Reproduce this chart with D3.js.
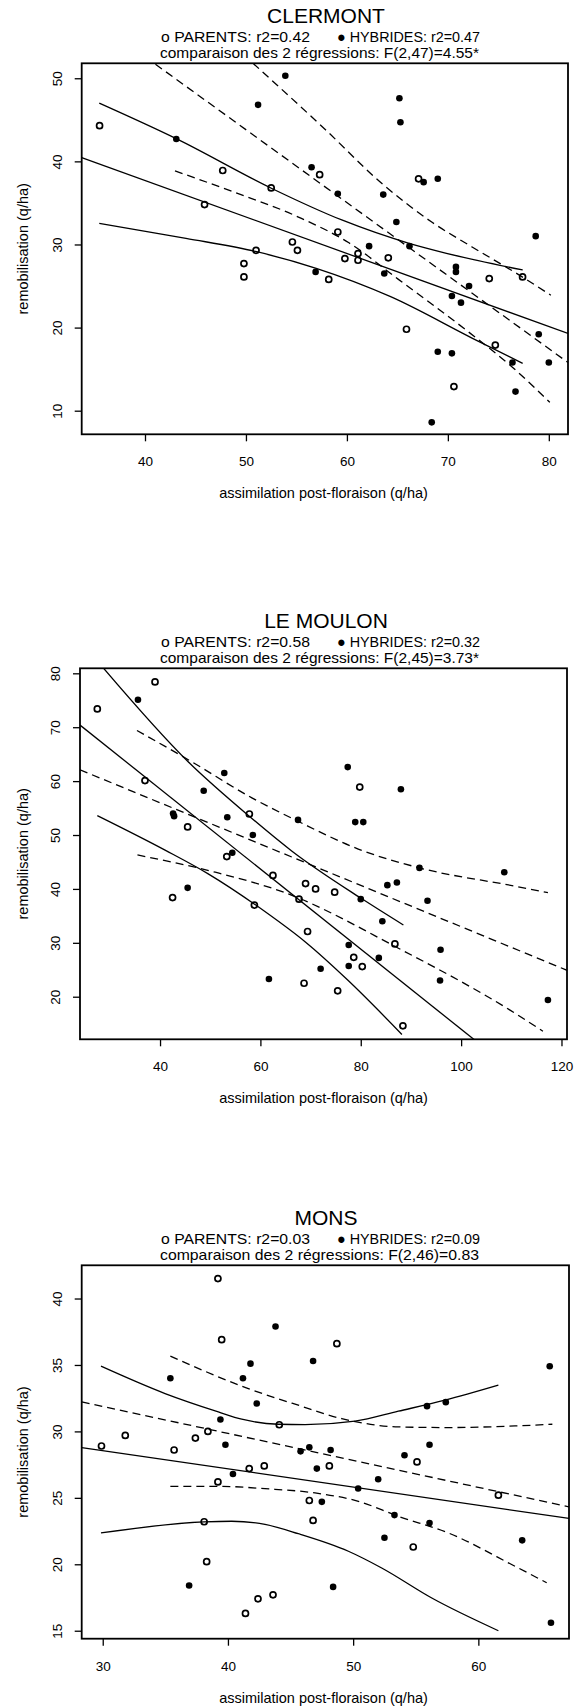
<!DOCTYPE html>
<html lang="fr">

<head>
    <meta charset="UTF-8">
    <script src="https://d3js.org/d3.v7.min.js"></script>
    <style>
        body {
            margin: 0;
            background: #fff;
        }

        svg text {
            font-family: "Liberation Sans", Arial, Helvetica, sans-serif;
            fill: #000;
        }
    </style>
    <title>remobilisation vs assimilation</title>
</head>

<body>
    <svg width="583" height="1706"></svg>
    <script>
        // ---------- data ----------
        const siteNames = ['CLERMONT', 'LE MOULON', 'MONS'];
        const r2Parents = ['0.42', '0.58', '0.03'];
        const r2Hybrides = ['0.47', '0.32', '0.09'];
        const fTests = ['F(2,47)=4.55*', 'F(2,45)=3.73*', 'F(2,46)=0.83'];

        const xTitle = 'assimilation post-floraison (q/ha)';
        const yTitle = 'remobilisation (q/ha)';

        // CLERMONT
        const clermontXDomain = [33.73, 81.9];
        const clermontYDomain = [7.16, 51.8];
        const clermontXTicks = [40, 50, 60, 70, 80];
        const clermontYTicks = [10, 20, 30, 40, 50];
        const clermontParents = [
            [35.5, 44.3], [47.7, 38.9], [45.9, 34.8], [52.5, 36.8], [57.3, 38.4], [67.1, 37.9],
            [59.1, 31.5], [54.6, 30.3], [55.1, 29.3], [51.0, 29.3], [49.8, 27.7], [49.8, 26.1],
            [58.2, 25.8], [59.8, 28.3], [61.1, 28.9], [61.1, 28.1], [64.1, 28.4], [65.9, 19.8],
            [70.6, 12.9], [74.1, 25.9], [74.7, 17.9], [77.4, 26.1]
        ];
        const clermontHybrides = [
            [53.9, 50.3], [51.2, 46.8], [65.2, 47.6], [65.3, 44.7], [43.1, 42.7], [56.5, 39.3],
            [67.6, 37.5], [69.0, 37.9], [59.1, 36.1], [63.6, 36.0], [64.9, 32.7], [62.2, 29.8],
            [66.2, 29.8], [56.9, 26.7], [63.7, 26.5], [70.8, 27.3], [70.8, 26.7], [72.1, 25.0],
            [70.4, 23.8], [71.3, 23.0], [69.0, 17.1], [70.4, 16.9], [76.4, 15.8], [68.4, 8.6],
            [76.7, 12.3], [79.0, 19.2], [80.0, 15.8], [78.7, 31.0]
        ];
        const clermontParentFit = [[33.73, 40.45], [81.9, 19.3]];
        const clermontParentUpper = [[35.47, 47.0], [43.14, 42.7], [52.46, 36.8], [59.49, 32.95], [66.16, 30.14], [69.86, 28.94], [77.41, 26.93]];
        const clermontParentLower = [[35.47, 32.55], [44.06, 30.74], [51.06, 29.13], [56.96, 27.13], [64.33, 23.72], [72.44, 18.71], [77.41, 15.7]];
        const clermontHybridFit = [[33.73, 58.1], [81.9, 15.8]];
        const clermontHybridUpper = [[50.7, 51.8], [57.8, 43.9], [63.5, 37.3], [68.4, 32.7], [72.4, 29.7], [76.7, 26.6], [80.2, 23.9]];
        const clermontHybridLower = [[42.97, 38.85], [48.6, 36.4], [55.2, 33.3], [60.2, 30.2], [65.1, 25.8], [71.7, 19.8], [76.7, 14.9], [80.1, 11.0]];

        // LE MOULON
        const moulonXDomain = [24.05, 121.1];
        const moulonYDomain = [12.1, 80.93];
        const moulonXTicks = [40, 60, 80, 100, 120];
        const moulonYTicks = [20, 30, 40, 50, 60, 70, 80];
        const moulonParents = [
            [27.5, 73.4], [39.0, 78.4], [37.0, 60.1], [45.5, 51.5], [57.8, 53.9], [79.8, 58.9],
            [53.3, 46.0], [62.5, 42.5], [42.5, 38.4], [58.8, 37.0], [69.0, 41.0], [71.0, 40.0],
            [74.8, 39.4], [67.7, 38.1], [69.4, 32.1], [78.6, 27.3], [80.3, 25.6], [86.8, 29.8],
            [68.7, 22.5], [75.4, 21.1], [88.4, 14.6]
        ];
        const moulonHybrides = [
            [35.6, 75.1], [52.8, 61.5], [48.7, 58.2], [42.6, 54.0], [42.8, 53.5], [53.4, 53.3],
            [58.5, 50.0], [67.5, 52.8], [77.4, 62.6], [78.9, 52.4], [80.5, 52.4], [88.0, 58.5],
            [54.4, 46.7], [45.5, 40.2], [61.7, 23.3], [72.0, 25.2], [77.6, 29.6], [77.6, 25.7],
            [83.6, 27.2], [80.0, 38.1], [84.3, 34.0], [85.3, 40.7], [87.2, 41.2], [91.7, 43.9],
            [93.3, 37.8], [95.9, 28.7], [95.8, 23.0], [108.6, 43.1], [117.3, 19.4]
        ];
        const moulonParentFit = [[24.05, 70.4], [121.1, -1.7]];
        const moulonParentUpper = [[27.5, 82.3], [45.6, 63.6], [57.9, 53.4], [66.3, 47.0], [80.0, 38.3], [88.5, 33.3]];
        const moulonParentLower = [[27.5, 53.6], [41.0, 47.2], [49.6, 42.8], [60.9, 35.8], [68.9, 30.2], [77.5, 23.0], [88.2, 13.0]];
        const moulonHybridFit = [[24.05, 62.1], [121.1, 24.9]];
        const moulonHybridUpper = [[35.4, 69.4], [46.3, 63.6], [58.3, 56.9], [67.6, 52.5], [79.5, 47.4], [91.7, 43.9], [110.8, 40.5], [117.3, 39.3]];
        const moulonHybridLower = [[35.5, 46.3], [51.0, 43.1], [64.9, 39.3], [87.5, 29.0], [110.8, 16.9], [116.3, 13.6]];

        // MONS
        const monsXDomain = [28.32, 67.24];
        const monsYDomain = [14.4, 42.5];
        const monsXTicks = [30, 40, 50, 60];
        const monsYTicks = [15, 20, 25, 30, 35, 40];
        const monsParents = [
            [39.2, 41.5], [39.5, 36.9], [48.7, 36.6], [29.9, 28.9], [31.8, 29.7], [37.4, 29.5],
            [38.4, 30.0], [44.1, 30.5], [35.7, 28.6], [41.7, 27.2], [42.9, 27.4], [39.2, 26.2],
            [48.1, 27.4], [55.1, 27.7], [46.5, 24.8], [46.8, 23.3], [38.1, 23.2], [38.3, 20.2],
            [54.8, 21.3], [42.4, 17.4], [43.6, 17.7], [41.4, 16.3], [61.6, 25.2]
        ];
        const monsHybrides = [
            [43.8, 37.9], [46.8, 35.3], [41.8, 35.1], [35.4, 34.0], [41.2, 34.0], [42.3, 32.1],
            [39.4, 30.9], [55.9, 31.9], [57.4, 32.2], [56.1, 29.0], [39.8, 29.0], [46.5, 28.8],
            [45.8, 28.5], [48.2, 28.6], [65.7, 34.9], [54.1, 28.2], [40.4, 26.8], [47.1, 27.2],
            [52.0, 26.4], [50.4, 25.7], [47.5, 24.7], [53.3, 23.7], [56.1, 23.1], [52.5, 22.0],
            [36.9, 18.4], [48.4, 18.3], [63.5, 21.8], [65.8, 15.6]
        ];
        const monsParentFit = [[28.32, 28.78], [67.24, 23.45]];
        const monsParentUpper = [[29.86, 34.91], [34.98, 32.85], [39.23, 31.47], [41.1, 30.92], [44.03, 30.54], [46.16, 30.51], [50.15, 30.77], [53.61, 31.52], [57.34, 32.35], [61.6, 33.48]];
        const monsParentLower = [[29.86, 22.36], [38.09, 23.19], [40.3, 23.24], [42.96, 23.0], [45.62, 22.3], [49.62, 20.98], [52.28, 19.72], [56.28, 17.46], [61.6, 15.0]];
        const monsHybridFit = [[28.32, 32.22], [67.24, 24.32]];
        const monsHybridUpper = [[35.4, 35.66], [41.63, 33.22], [45.62, 31.97], [49.09, 30.96], [53.61, 30.34], [57.6, 30.29], [62.93, 30.41], [65.91, 30.54]];
        const monsHybridLower = [[35.4, 25.87], [39.21, 25.87], [42.96, 25.69], [46.96, 25.37], [50.42, 24.74], [53.61, 23.61], [57.6, 22.36], [62.93, 19.85], [65.46, 18.61]];

        // ---------- layout ----------
        const panels = [
            {
                xDomain: clermontXDomain, yDomain: clermontYDomain, xTicks: clermontXTicks, yTicks: clermontYTicks,
                parents: clermontParents, hybrides: clermontHybrides,
                solid: [clermontParentFit, clermontParentUpper, clermontParentLower],
                dashed: [clermontHybridFit, clermontHybridUpper, clermontHybridLower],
                box: { left: 81.7, right: 568, top: 63.3, bottom: 434.3 }
            },
            {
                xDomain: moulonXDomain, yDomain: moulonYDomain, xTicks: moulonXTicks, yTicks: moulonYTicks,
                parents: moulonParents, hybrides: moulonHybrides,
                solid: [moulonParentFit, moulonParentUpper, moulonParentLower],
                dashed: [moulonHybridFit, moulonHybridUpper, moulonHybridLower],
                box: { left: 80, right: 567, top: 668.3, bottom: 1039.3 }
            },
            {
                xDomain: monsXDomain, yDomain: monsYDomain, xTicks: monsXTicks, yTicks: monsYTicks,
                parents: monsParents, hybrides: monsHybrides,
                solid: [monsParentFit, monsParentUpper, monsParentLower],
                dashed: [monsHybridFit, monsHybridUpper, monsHybridLower],
                box: { left: 81.7, right: 569, top: 1265.3, bottom: 1638.7 }
            }
        ];

        const svg = d3.select('svg');

        panels.forEach((p, i) => drawPanel(p, i));

        function drawPanel(p, i) {
            const b = p.box;
            const g = svg.append('g');

            const x = d3.scaleLinear().domain(p.xDomain).range([b.left, b.right]);
            const y = d3.scaleLinear().domain(p.yDomain).range([b.bottom, b.top]);

            // clip the regression lines to the plotting box
            const clipId = 'clip' + i;
            g.append('clipPath').attr('id', clipId)
                .append('rect')
                .attr('x', b.left).attr('y', b.top)
                .attr('width', b.right - b.left).attr('height', b.bottom - b.top);

            // titles
            g.append('text')
                .attr('x', 326).attr('y', b.top - 40.6)
                .attr('text-anchor', 'middle')
                .attr('font-size', 21)
                .text(siteNames[i]);

            g.append('text')
                .attr('x', 161).attr('y', b.top - 21.7)
                .attr('font-size', 15)
                .attr('textLength', 149).attr('lengthAdjust', 'spacingAndGlyphs')
                .text('o PARENTS: r2=' + r2Parents[i]);

            g.append('text')
                .attr('x', 337).attr('y', b.top - 21.7)
                .attr('font-size', 15)
                .attr('textLength', 143).attr('lengthAdjust', 'spacingAndGlyphs')
                .text('\u25CF HYBRIDES: r2=' + r2Hybrides[i]);

            g.append('text')
                .attr('x', 160).attr('y', b.top - 5)
                .attr('font-size', 15)
                .attr('textLength', 319).attr('lengthAdjust', 'spacingAndGlyphs')
                .text('comparaison des 2 r\u00e9gressions: ' + fTests[i]);

            // axes
            const xAxis = g.append('g')
                .attr('transform', `translate(0,${b.bottom})`)
                .call(d3.axisBottom(x).tickValues(p.xTicks).tickSize(7).tickFormat(d3.format('d')));
            xAxis.select('.domain').remove();
            xAxis.attr('font-size', 13.5).attr('font-family', null);
            xAxis.selectAll('.tick line').attr('stroke-width', 1.3);
            xAxis.selectAll('.tick text').attr('y', 32).attr('dy', null);

            const yAxis = g.append('g')
                .attr('transform', `translate(${b.left},0)`)
                .call(d3.axisLeft(y).tickValues(p.yTicks).tickSize(7).tickFormat(d3.format('d')));
            yAxis.select('.domain').remove();
            yAxis.attr('font-size', 13.5).attr('font-family', null);
            yAxis.selectAll('.tick line').attr('stroke-width', 1.3);
            // R style: labels parallel to the axis
            yAxis.selectAll('.tick text')
                .attr('transform', 'rotate(-90)')
                .attr('x', 0).attr('y', -20).attr('dy', null)
                .attr('text-anchor', 'middle');

            // axis titles
            g.append('text')
                .attr('x', 323.5).attr('y', b.bottom + 64)
                .attr('text-anchor', 'middle')
                .attr('font-size', 14.5)
                .text(xTitle);

            g.append('text')
                .attr('transform', `translate(27.5,${(b.top + b.bottom) / 2}) rotate(-90)`)
                .attr('text-anchor', 'middle')
                .attr('font-size', 14.5)
                .text(yTitle);

            // regressions and confidence bands
            const line = d3.line()
                .x(d => x(d[0]))
                .y(d => y(d[1]))
                .curve(d3.curveMonotoneX);

            const lines = g.append('g').attr('clip-path', `url(#${clipId})`)
                .attr('fill', 'none').attr('stroke', '#000');

            lines.selectAll('path.solid')
                .data(p.solid)
                .enter().append('path')
                .attr('class', 'solid')
                .attr('stroke-width', 1.3)
                .attr('d', line);

            lines.selectAll('path.dashed')
                .data(p.dashed)
                .enter().append('path')
                .attr('class', 'dashed')
                .attr('stroke-width', 1.3)
                .attr('stroke-dasharray', '8,5')
                .attr('d', line);

            // points
            g.selectAll('circle.parent')
                .data(p.parents)
                .enter().append('circle')
                .attr('class', 'parent')
                .attr('cx', d => x(d[0]))
                .attr('cy', d => y(d[1]))
                .attr('r', 3)
                .attr('fill', 'none')
                .attr('stroke', '#000')
                .attr('stroke-width', 1.7);

            g.selectAll('circle.hybride')
                .data(p.hybrides)
                .enter().append('circle')
                .attr('class', 'hybride')
                .attr('cx', d => x(d[0]))
                .attr('cy', d => y(d[1]))
                .attr('r', 3.3)
                .attr('fill', '#000');

            // frame
            g.append('rect')
                .attr('x', b.left).attr('y', b.top)
                .attr('width', b.right - b.left).attr('height', b.bottom - b.top)
                .attr('fill', 'none')
                .attr('stroke', '#000')
                .attr('stroke-width', 1.8);
        }
    </script>
</body>

</html>
